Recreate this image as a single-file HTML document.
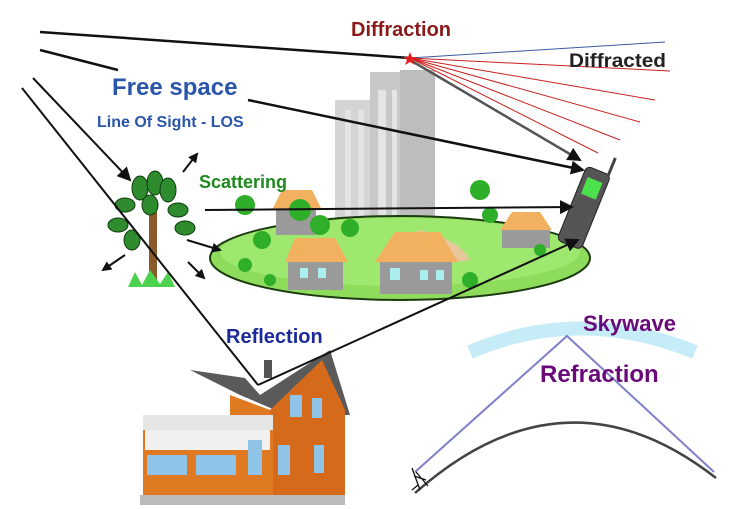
<!DOCTYPE html>
<html><head><meta charset="utf-8"><style>
html,body{margin:0;padding:0;background:#fff;width:730px;height:509px;overflow:hidden}
svg{display:block}
text{font-family:"Liberation Sans",sans-serif;font-weight:bold}
</style></head><body>
<svg width="730" height="509" viewBox="0 0 730 509" xmlns="http://www.w3.org/2000/svg">
<defs>
<marker id="ah" markerWidth="10" markerHeight="10" refX="8" refY="5" orient="auto" markerUnits="userSpaceOnUse"><path d="M0,0 L10,5 L0,10 z" fill="#111"/></marker>
<marker id="ah2" markerWidth="14" markerHeight="14" refX="12" refY="7" orient="auto" markerUnits="userSpaceOnUse"><path d="M0,0 L14,7 L0,14 z" fill="#111"/></marker>
</defs>
<!-- building -->
<rect x="335" y="100" width="40" height="180" fill="#d4d4d4"/>
<rect x="370" y="72" width="65" height="208" fill="#c8c8c8"/>
<rect x="400" y="70" width="35" height="210" fill="#bdbdbd"/>
<g fill="#e4e4e4">
<rect x="378" y="90" width="8" height="180"/><rect x="392" y="90" width="5" height="180"/><rect x="345" y="110" width="6" height="160"/><rect x="358" y="110" width="6" height="160"/>
</g>
<!-- island -->
<ellipse cx="400" cy="258" rx="190" ry="42" fill="#8edc5c" stroke="#1c3a10" stroke-width="2"/>
<ellipse cx="400" cy="252" rx="180" ry="34" fill="#9fe870"/>
<path d="M420,230 Q460,240 470,260 L440,265 Q430,245 400,240z" fill="#e8c89a"/>
<g>
<polygon points="282,190 312,190 322,210 272,210" fill="#f2b15e"/><rect x="276" y="210" width="40" height="25" fill="#9a9a9a"/>
<polygon points="295,238 335,238 348,262 285,262" fill="#f2b15e"/><rect x="288" y="262" width="55" height="28" fill="#9a9a9a"/>
<rect x="300" y="268" width="8" height="10" fill="#aee"/><rect x="318" y="268" width="8" height="10" fill="#aee"/>
<polygon points="395,232 440,232 458,262 375,262" fill="#f2b15e"/><rect x="380" y="262" width="72" height="32" fill="#9a9a9a"/>
<rect x="390" y="268" width="10" height="12" fill="#aee"/><rect x="420" y="270" width="8" height="10" fill="#aee"/><rect x="436" y="270" width="8" height="10" fill="#aee"/>
<polygon points="512,212 540,212 552,230 500,230" fill="#f2b15e"/><rect x="502" y="230" width="48" height="18" fill="#9a9a9a"/>
</g>
<g fill="#2fae2a">
<circle cx="245" cy="205" r="10"/><circle cx="262" cy="240" r="9"/><circle cx="300" cy="210" r="11"/><circle cx="320" cy="225" r="10"/><circle cx="350" cy="228" r="9"/><circle cx="480" cy="190" r="10"/><circle cx="490" cy="215" r="8"/><circle cx="245" cy="265" r="7"/><circle cx="270" cy="280" r="6"/><circle cx="470" cy="280" r="8"/><circle cx="540" cy="250" r="6"/>
</g>
<!-- tree -->
<rect x="149" y="212" width="8" height="73" fill="#8b5a2b"/>
<g fill="#2e8b2e" stroke="#0e3d0e" stroke-width="1">
<ellipse cx="140" cy="188" rx="8" ry="12"/><ellipse cx="155" cy="183" rx="8" ry="12"/><ellipse cx="168" cy="190" rx="8" ry="12"/><ellipse cx="125" cy="205" rx="10" ry="7"/><ellipse cx="178" cy="210" rx="10" ry="7"/><ellipse cx="118" cy="225" rx="10" ry="7"/><ellipse cx="185" cy="228" rx="10" ry="7"/><ellipse cx="132" cy="240" rx="8" ry="10"/><ellipse cx="150" cy="205" rx="8" ry="10"/>
</g>
<path d="M128,287 L135,272 L142,285 L150,270 L160,284 L168,272 L175,287z" fill="#4cd24c"/>
<!-- phone -->
<g transform="rotate(22 585 205)">
<rect x="572" y="168" width="26" height="80" rx="5" fill="#555" stroke="#222"/>
<rect x="577" y="178" width="16" height="18" fill="#4de04d"/>
<rect x="594" y="150" width="3" height="20" fill="#444"/>
</g>
<!-- skywave -->
<path d="M470,352 Q580,305 695,352" fill="none" stroke="#c5ecf7" stroke-width="14"/>
<polyline points="415,472 567,336 714,472" fill="none" stroke="#8080c8" stroke-width="2"/>
<path d="M415,493 Q565,360 716,478" fill="none" stroke="#444" stroke-width="2.5"/>
<path d="M412,468 L420,490 M414,476 L426,480 M418,485 L412,490 M416,472 L428,486" stroke="#111" stroke-width="1.3" fill="none"/>
<!-- house bottom -->
<polygon points="190,370 245,378 260,395 330,350 350,415 330,415 325,395 280,412 240,395 210,380" fill="#5a5a5a"/>
<polygon points="270,410 322,360 345,410 345,500 270,500" fill="#d46a1a"/>
<polygon points="230,395 270,410 270,500 230,495" fill="#e07a22"/>
<rect x="143" y="415" width="130" height="82" fill="#e07a22"/>
<rect x="143" y="415" width="130" height="15" fill="#e6e6e6"/>
<rect x="145" y="430" width="125" height="20" fill="#f0f0f0"/>
<rect x="147" y="455" width="40" height="20" fill="#8fc3e8"/><rect x="196" y="455" width="40" height="20" fill="#8fc3e8"/>
<rect x="248" y="440" width="14" height="35" fill="#8fc3e8"/><rect x="278" y="445" width="12" height="30" fill="#8fc3e8"/>
<rect x="290" y="395" width="12" height="22" fill="#8fc3e8"/><rect x="312" y="398" width="10" height="20" fill="#8fc3e8"/><rect x="314" y="445" width="10" height="28" fill="#8fc3e8"/>
<rect x="140" y="495" width="205" height="10" fill="#bbb"/>
<rect x="264" y="360" width="8" height="18" fill="#555"/>
<!-- rays -->
<g stroke="#111" stroke-width="2.5" fill="none">
<line x1="40" y1="32" x2="410" y2="58"/>
<line x1="40" y1="50" x2="118" y2="70"/>
<line x1="248" y1="100" x2="583" y2="170" marker-end="url(#ah2)"/>
<line x1="410" y1="60" x2="580" y2="160" stroke="#555" marker-end="url(#ah2)"/>
</g>
<g stroke="#111" stroke-width="2" fill="none">
<line x1="33" y1="78" x2="130" y2="180" marker-end="url(#ah2)"/>
<line x1="22" y1="88" x2="258" y2="385"/>
<line x1="258" y1="385" x2="578" y2="240" marker-end="url(#ah2)"/>
<line x1="205" y1="210" x2="572" y2="207" marker-end="url(#ah2)"/>
<line x1="183" y1="172" x2="197" y2="154" marker-end="url(#ah)"/>
<line x1="187" y1="240" x2="220" y2="250" marker-end="url(#ah)"/>
<line x1="125" y1="255" x2="103" y2="270" marker-end="url(#ah)"/>
<line x1="188" y1="262" x2="204" y2="278" marker-end="url(#ah)"/>
</g>
<line x1="410" y1="58" x2="665" y2="42" stroke="#3a5aa0" stroke-width="1"/>
<g stroke="#c82020" stroke-width="1">
<line x1="410" y1="58" x2="670" y2="71"/><line x1="410" y1="58" x2="655" y2="100"/><line x1="410" y1="58" x2="640" y2="122"/><line x1="410" y1="58" x2="620" y2="140"/><line x1="410" y1="58" x2="598" y2="153"/>
</g>
<polygon points="410,52 412,57 417,57 413,60 415,65 410,62 405,65 407,60 403,57 408,57" fill="#e02020"/>
<!-- labels -->
<text x="351" y="36" font-size="20" fill="#8b1a1a">Diffraction</text>
<text x="569" y="67" font-size="19" fill="#222" font-weight="normal" textLength="97" lengthAdjust="spacingAndGlyphs">Diffracted</text>
<text x="112" y="95" font-size="24" fill="#2b55a8">Free space</text>
<text x="97" y="127" font-size="16" fill="#2b55a8">Line Of Sight - LOS</text>
<text x="199" y="188" font-size="18" fill="#1e8a1e">Scattering</text>
<text x="226" y="343" font-size="20" fill="#1c2a9a">Reflection</text>
<text x="583" y="331" font-size="22" fill="#6a0a7a">Skywave</text>
<text x="540" y="382" font-size="24" fill="#6a0a7a">Refraction</text>
</svg>
</body></html>
